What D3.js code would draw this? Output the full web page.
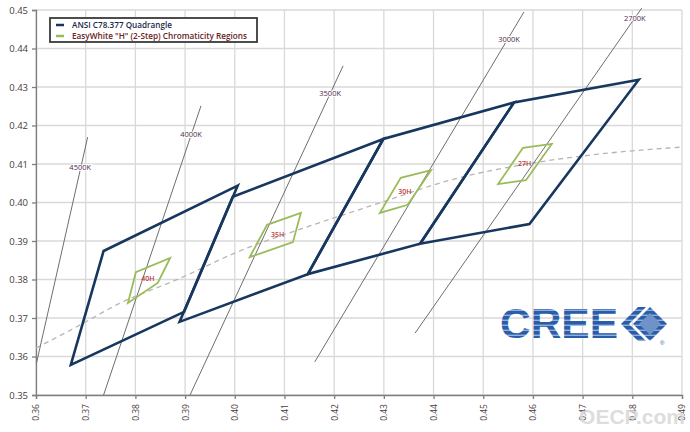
<!DOCTYPE html>
<html>
<head>
<meta charset="utf-8">
<script src="https://cdn.jsdelivr.net/npm/d3@7"></script>
<style>
html,body{margin:0;padding:0;background:#fff;}
svg{display:block;}
</style>
</head>
<body>
<svg id="chart" width="690" height="432"></svg>
<script>
// ---------- DATA ----------
const xTicks = [0.36,0.37,0.38,0.39,0.40,0.41,0.42,0.43,0.44,0.45,0.46,0.47,0.48,0.49];
const yTicks = [0.35,0.36,0.37,0.38,0.39,0.40,0.41,0.42,0.43,0.44,0.45];

// ANSI C78.377 quadrangles (corners: top-right, top-left, bottom-left, bottom-right)
const ansiNames = ["4000K","3500K","3000K","2700K"];
const ansiX = [[0.4006,0.3736,0.3670,0.3898],[0.4299,0.3996,0.3889,0.4147],[0.4562,0.4299,0.4147,0.4373],[0.4813,0.4562,0.4373,0.4593]];
const ansiY = [[0.4044,0.3874,0.3578,0.3716],[0.4165,0.4015,0.3690,0.3814],[0.4260,0.4165,0.3814,0.3893],[0.4319,0.4260,0.3893,0.3944]];

// EasyWhite "H" 2-step regions
const hNames = ["40H","35H","30H","27H"];
const hX = [[0.3785,0.3801,0.3870,0.3845],[0.4030,0.4065,0.4133,0.4117],[0.4292,0.4334,0.4395,0.4348],[0.4530,0.4580,0.4638,0.4586]];
const hY = [[0.3739,0.3819,0.3856,0.3791],[0.3858,0.3942,0.3973,0.3897],[0.3973,0.4064,0.4084,0.3994],[0.4048,0.4142,0.4152,0.4058]];

// CCT isotherm lines
const isoNames = ["4500K","4000K","3500K","3000K","2700K"];
const isoX1 = [0.3601,0.3736,0.3910,0.4161,0.4363];
const isoY1 = [0.3583,0.3500,0.3500,0.3586,0.3661];
const isoX2 = [0.3704,0.3932,0.4218,0.4582,0.4819];
const isoY2 = [0.4170,0.4251,0.4355,0.4495,0.4505];
const isoLabelX = [0.3689,0.3912,0.4192,0.4552,0.4805];
const isoLabelY = [0.4092,0.4178,0.4284,0.4425,0.4477];

// Black-body locus (dashed)
const locusX = [0.3600,0.3689,0.3765,0.3886,0.4010,0.4151,0.4292,0.4433,0.4588,0.4735,0.4900];
const locusY = [0.3622,0.3682,0.3736,0.3801,0.3874,0.3939,0.3999,0.4058,0.4100,0.4126,0.4144];

const legendLabels = ["ANSI C78.377 Quadrangle", "EasyWhite \"H\" (2-Step) Chromaticity Regions"];

// ---------- CHART ----------
const svg = d3.select("#chart");
const L = 36, R = 682, T = 10, B = 395;
const x = d3.scaleLinear().domain([0.36,0.49]).range([L,R]);
const y = d3.scaleLinear().domain([0.35,0.45]).range([B,T]);
const fmt = d3.format(".2f");

// grid
const grid = svg.append("g");
grid.selectAll("line.v").data(xTicks).join("line")
  .attr("x1",d=>x(d)).attr("x2",d=>x(d)).attr("y1",T).attr("y2",B)
  .attr("stroke","#d9d9d9").attr("stroke-width",1.3);
grid.selectAll("line.h").data(yTicks).join("line")
  .attr("x1",L).attr("x2",R).attr("y1",d=>y(d)).attr("y2",d=>y(d))
  .attr("stroke","#d9d9d9").attr("stroke-width",1.3);

// axes
const yAxis = svg.append("g").attr("transform",`translate(${L},0)`)
  .call(d3.axisLeft(y).tickValues(yTicks).tickFormat(fmt).tickSize(4).tickPadding(4));
const xAxis = svg.append("g").attr("transform",`translate(0,${B})`)
  .call(d3.axisBottom(x).tickValues(xTicks).tickFormat(fmt).tickSize(4).tickPadding(4));
[yAxis,xAxis].forEach(a=>{
  a.select(".domain").attr("stroke","#7f7f7f").attr("stroke-width",1.3);
  a.selectAll(".tick line").attr("stroke","#7f7f7f").attr("stroke-width",1.3);
  a.selectAll("text").attr("fill","#4a3a40").style("font-family","'Open Sans', sans-serif");
});
yAxis.selectAll("text").style("font-size","9.5px").attr("x",-8);
xAxis.selectAll("text").style("font-size","8.5px")
  .attr("transform","rotate(-90)")
  .attr("text-anchor","end").attr("dy","0.35em").attr("x",-9).attr("y",0);

// locus
svg.append("path")
  .datum(locusX.map((d,i)=>[d,locusY[i]]))
  .attr("d",d3.line().x(d=>x(d[0])).y(d=>y(d[1])).curve(d3.curveMonotoneX))
  .attr("fill","none").attr("stroke","#b5b5b5").attr("stroke-width",1.3)
  .attr("stroke-dasharray","5,4");

// isotherms
svg.append("g").selectAll("line").data(isoNames).join("line")
  .attr("x1",(d,i)=>x(isoX1[i])).attr("y1",(d,i)=>y(isoY1[i]))
  .attr("x2",(d,i)=>x(isoX2[i])).attr("y2",(d,i)=>y(isoY2[i]))
  .attr("stroke","#6e6e6e").attr("stroke-width",1);
svg.append("g").selectAll("text").data(isoNames).join("text")
  .attr("x",(d,i)=>x(isoLabelX[i])).attr("y",(d,i)=>y(isoLabelY[i]))
  .attr("text-anchor","middle").attr("dy","0.35em")
  .style("font-family","'Open Sans', sans-serif").style("font-size","7.5px")
  .attr("fill","#4b2d48").attr("stroke","#fff").attr("stroke-width",2).attr("paint-order","stroke")
  .text(d=>d);

// ANSI quads
svg.append("g").selectAll("polygon").data(ansiNames).join("polygon")
  .attr("points",(d,i)=>ansiX[i].map((v,j)=>[x(v),y(ansiY[i][j])].join(",")).join(" "))
  .attr("fill","none").attr("stroke","#17375e").attr("stroke-width",2.6)
  .attr("stroke-linejoin","miter");

// H regions
svg.append("g").selectAll("polygon").data(hNames).join("polygon")
  .attr("points",(d,i)=>hX[i].map((v,j)=>[x(v),y(hY[i][j])].join(",")).join(" "))
  .attr("fill","none").attr("stroke","#9bbb59").attr("stroke-width",1.8);
svg.append("g").selectAll("text").data(hNames).join("text")
  .attr("x",(d,i)=>x(d3.mean(hX[i]))).attr("y",(d,i)=>y(d3.mean(hY[i])))
  .attr("text-anchor","middle").attr("dy","0.35em")
  .style("font-family","'Open Sans', sans-serif").style("font-size","7px").style("font-weight","600")
  .attr("fill","#c0393b")
  .text(d=>d);

// legend
const lg = svg.append("g");
lg.append("rect").attr("x",50).attr("y",18).attr("width",207).attr("height",24)
  .attr("fill","#fff").attr("stroke","#3a3a3a").attr("stroke-width",1.8);
const legColors = ["#17375e","#9bbb59"];
const legText = ["#1b2a4a","#6a2222"];
const legLen = [100,175];
legendLabels.forEach((t,i)=>{
  const cy = 25 + i*11;
  lg.append("line").attr("x1",56).attr("x2",64).attr("y1",cy).attr("y2",cy)
    .attr("stroke",legColors[i]).attr("stroke-width",2.5);
  lg.append("text").attr("x",72).attr("y",cy).attr("dy","0.35em")
    .style("font-family","'Open Sans', sans-serif").style("font-size","8px").style("font-weight","600")
    .attr("fill",legText[i]).attr("textLength",legLen[i]).attr("lengthAdjust","spacingAndGlyphs")
    .text(t);
});

// CREE logo
const defs = svg.append("defs");
const pat = defs.append("pattern").attr("id","stripes").attr("patternUnits","userSpaceOnUse")
  .attr("width",10).attr("height",5).attr("y",306);
pat.append("rect").attr("width",10).attr("height",5).attr("fill","#2b5ca8");
pat.append("rect").attr("y",3.6).attr("width",10).attr("height",1.4).attr("fill","#8fb0dc");
const logo = svg.append("g");
logo.append("text").attr("x",500).attr("y",338)
  .style("font-family","'Liberation Sans', Arial, sans-serif").style("font-size","42px").style("font-weight","bold")
  .attr("fill","url(#stripes)").attr("textLength",118).attr("lengthAdjust","spacingAndGlyphs")
  .text("CREE");
logo.append("polygon").attr("points","621,324 638,307 646,307 629,324 646,341 638,341")
  .attr("fill","url(#stripes)");
logo.append("polygon").attr("points","650,307 667,324 650,341 633,324")
  .attr("fill","url(#stripes)");
logo.append("polygon").attr("points","650,313 661,324 650,335 639,324")
  .attr("fill","#6f93c8");
logo.append("text").attr("x",660).attr("y",345).style("font-size","6px")
  .style("font-family","'Liberation Sans', sans-serif").attr("fill","#2b5ca8").text("®");

// watermark
svg.append("text").attr("x",632).attr("y",424).attr("text-anchor","middle")
  .style("font-family","'Liberation Sans', Arial, sans-serif").style("font-size","21px").style("font-weight","bold")
  .attr("fill","#d8d8d8").attr("opacity",0.85).text("OECP.com");
</script>
</body>
</html>
